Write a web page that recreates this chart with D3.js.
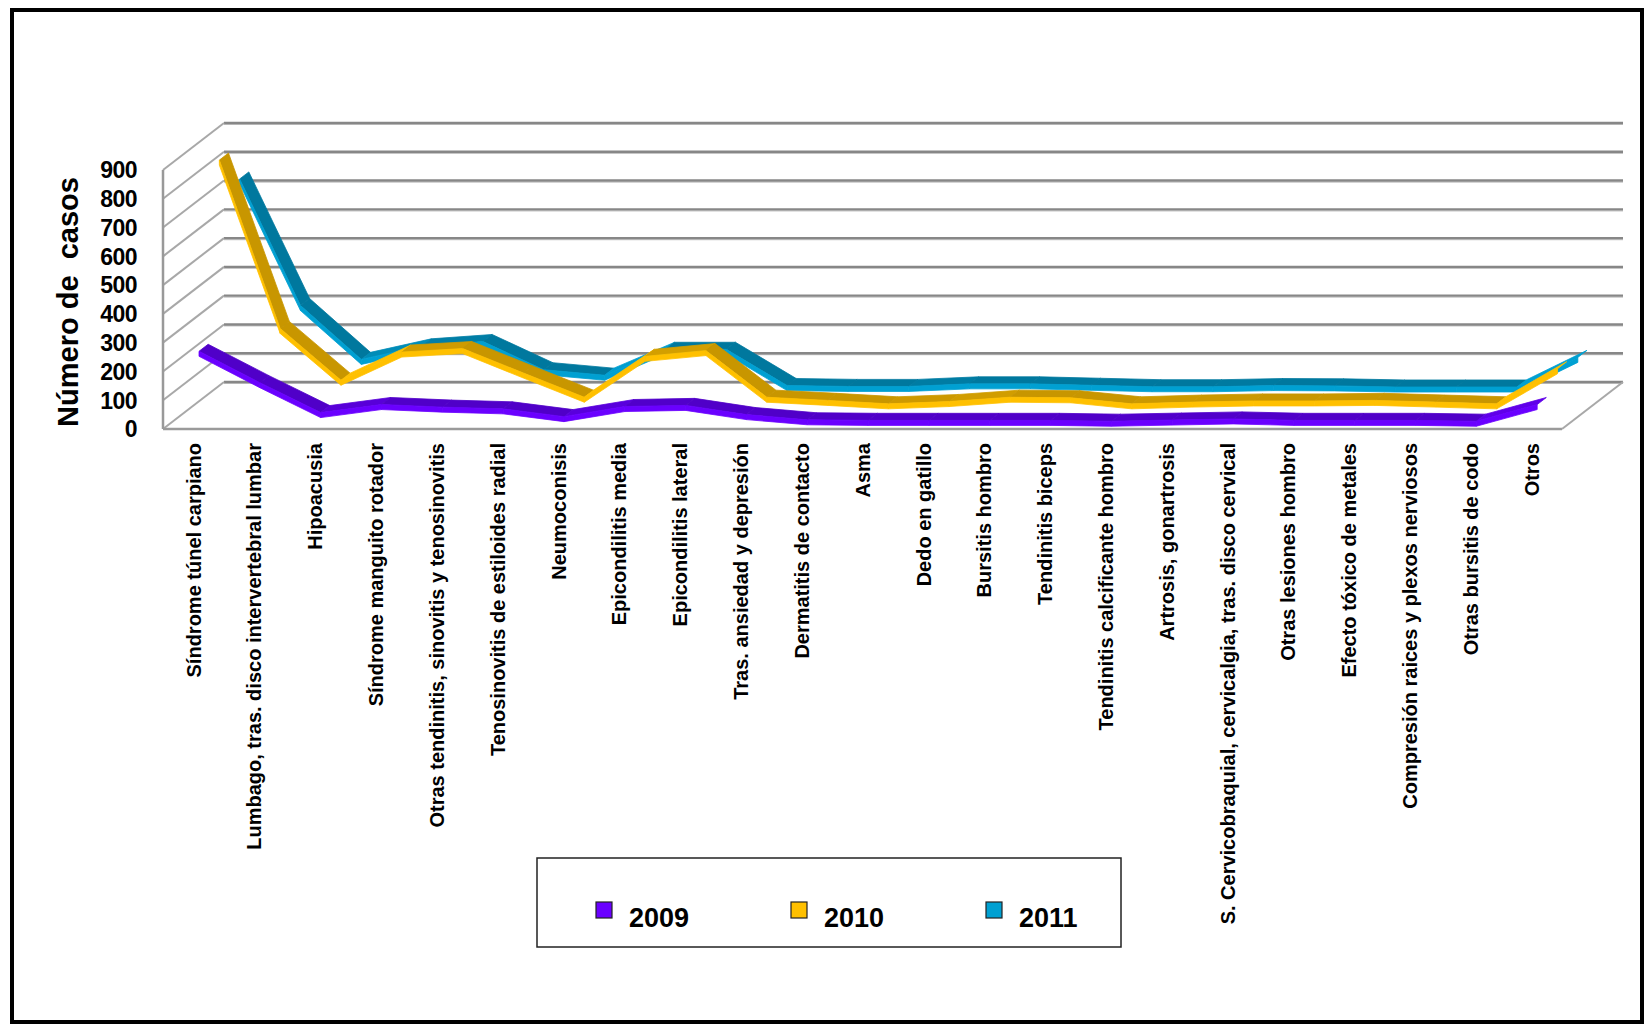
<!DOCTYPE html>
<html>
<head>
<meta charset="utf-8">
<script src="https://cdn.jsdelivr.net/npm/d3@7"></script>
<style>
  body { margin: 0; background: #fff; }
  svg { display: block; }
  text { font-family: "Liberation Sans", Arial, sans-serif; font-weight: bold; fill: #000; }
</style>
</head>
<body>
<div id="chart"></div>
<script>
"use strict";

// categories along the x axis
var categories = [
    "Síndrome túnel carpiano",
    "Lumbago, tras. disco intervertebral lumbar",
    "Hipoacusia",
    "Síndrome manguito rotador",
    "Otras tendinitis, sinovitis y tenosinovitis",
    "Tenosinovitis de estiloides radial",
    "Neumoconisis",
    "Epicondilitis media",
    "Epicondilitis lateral",
    "Tras. ansiedad y depresión",
    "Dermatitis de contacto",
    "Asma",
    "Dedo en gatillo",
    "Bursitis hombro",
    "Tendinitis biceps",
    "Tendinitis calcificante hombro",
    "Artrosis, gonartrosis",
    "S. Cervicobraquial, cervicalgia, tras. disco cervical",
    "Otras lesiones hombro",
    "Efecto tóxico de metales",
    "Compresión raices y plexos nerviosos",
    "Otras bursitis de codo",
    "Otros"
];

// series
var years = ["2009", "2010", "2011"];
var values2009 = [255, 146, 42, 70, 61, 55, 28, 63, 67, 35, 17, 15, 15, 15, 15, 12, 16, 20, 15, 15, 15, 12, 70];
var values2010 = [865, 280, 100, 198, 210, 125, 41, 183, 203, 41, 30, 18, 26, 41, 39, 18, 24, 28, 28, 30, 24, 18, 140];
var values2011 = [745, 305, 118, 165, 180, 82, 63, 153, 153, 27, 24, 24, 33, 33, 28, 23, 23, 27, 26, 22, 22, 22, 125];

var yMax = 900;
var yTitle = "Número de  casos";

// colours: [front face, top face]
var seriesColors = {
    "2009": { light: "#6a00ff", dark: "#5000c8" },
    "2010": { light: "#ffc000", dark: "#c89600" },
    "2011": { light: "#00a0d2", dark: "#00789e" }
};

var width = 1650, height = 1027;

var svg = d3.select("#chart").append("svg")
    .attr("width", width)
    .attr("height", height);

// outer frame
svg.append("rect")
    .attr("x", 12).attr("y", 10)
    .attr("width", 1630).attr("height", 1012)
    .attr("fill", "#fff")
    .attr("stroke", "#000")
    .attr("stroke-width", 4);

// front plane scales
var x = d3.scaleBand().domain(categories).range([163, 1562]);
var y = d3.scaleLinear().domain([0, yMax]).range([429, 170]);

// depth: 0 = front, 1 = back wall
var depthX = d3.scaleLinear().domain([0, 1]).range([0, 61]);
var depthY = d3.scaleLinear().domain([0, 1]).range([0, -47]);
var seriesDepth = d3.scaleBand().domain(years).range([0, 1]);

function proj(cat, v, z) {
    return [x(cat) + x.bandwidth() / 2 + depthX(z), y(v) + depthY(z)];
}

var levels = y.ticks(9);
var x0 = x.range()[0], x1 = x.range()[1];

// ---- walls ----
var walls = svg.append("g").attr("class", "walls");

// back wall gridlines
levels.forEach(function(v) {
    var yy = y(v) + depthY(1);
    walls.append("line")
        .attr("x1", x0 + depthX(1)).attr("x2", x1 + depthX(1))
        .attr("y1", yy + 1.5).attr("y2", yy + 1.5)
        .attr("stroke", "#c6c6c6").attr("stroke-width", 1.2);
    walls.append("line")
        .attr("x1", x0 + depthX(1)).attr("x2", x1 + depthX(1))
        .attr("y1", yy).attr("y2", yy)
        .attr("stroke", "#878787").attr("stroke-width", 2.4);
});

// side wall diagonals
levels.forEach(function(v) {
    walls.append("line")
        .attr("x1", x0).attr("y1", y(v))
        .attr("x2", x0 + depthX(1)).attr("y2", y(v) + depthY(1))
        .attr("stroke", "#a8a8a8").attr("stroke-width", 2);
});

// front vertical axis
walls.append("line")
    .attr("x1", x0).attr("x2", x0)
    .attr("y1", y(0)).attr("y2", y(yMax))
    .attr("stroke", "#999").attr("stroke-width", 2.5);

// floor front edge and right edge
walls.append("line")
    .attr("x1", x0).attr("x2", x1)
    .attr("y1", y(0)).attr("y2", y(0))
    .attr("stroke", "#9a9a9a").attr("stroke-width", 2.5);
walls.append("line")
    .attr("x1", x1).attr("y1", y(0))
    .attr("x2", x1 + depthX(1)).attr("y2", y(0) + depthY(1))
    .attr("stroke", "#a8a8a8").attr("stroke-width", 2);

// ---- y tick labels ----
svg.append("g").selectAll("text")
    .data(levels)
    .enter().append("text")
    .attr("x", 137)
    .attr("y", d => y(d))
    .attr("dy", "0.36em")
    .attr("text-anchor", "end")
    .style("font-size", "23px")
    .style("letter-spacing", "-0.5px")
    .text(d => d);

// y title
svg.append("text")
    .attr("transform", "translate(68,302) rotate(-90)")
    .attr("text-anchor", "middle")
    .attr("dy", "0.36em")
    .style("font-size", "29px")
    .attr("xml:space", "preserve")
    .text(yTitle);

// ---- category labels ----
svg.append("g").selectAll("text")
    .data(categories)
    .enter().append("text")
    .attr("transform", d => "translate(" + (x(d) + x.bandwidth() / 2) + ",443) rotate(-90)")
    .attr("text-anchor", "end")
    .attr("dy", "0.36em")
    .style("font-size", "20px")
    .text(d => d);

// ---- ribbons (back series first) ----
var ribbonDepth = 0.15;
var faceHeight = 5;
var seriesData = { "2009": values2009, "2010": values2010, "2011": values2011 };

var ribbons = svg.append("g").attr("class", "ribbons");
var poly = d3.line();

years.slice().reverse().forEach(function(yr) {
    var vals = seriesData[yr];
    var zc = seriesDepth(yr) + seriesDepth.bandwidth() / 2;
    var zf = zc - ribbonDepth / 2, zb = zc + ribbonDepth / 2;
    var col = seriesColors[yr];
    var shade = d3.interpolateRgb(col.dark, col.light);
    var g = ribbons.append("g");

    for (var i = 0; i < vals.length - 1; i++) {
        var a = categories[i], b = categories[i + 1];
        var af = proj(a, vals[i], zf), bf = proj(b, vals[i + 1], zf);
        var ab = proj(a, vals[i], zb), bb = proj(b, vals[i + 1], zb);

        // rising segments catch more light on the top face
        var slope = (af[1] - bf[1]) / (bf[0] - af[0]);
        var t = Math.max(0, Math.min(1, slope * 2.2));

        g.append("path")
            .attr("d", poly([af, bf, bb, ab]) + "Z")
            .attr("fill", shade(t))
            .attr("stroke", shade(t))
            .attr("stroke-width", 0.8);

        g.append("path")
            .attr("d", poly([af, bf, [bf[0], bf[1] + faceHeight], [af[0], af[1] + faceHeight]]) + "Z")
            .attr("fill", col.light)
            .attr("stroke", col.light)
            .attr("stroke-width", 0.8);
    }
});

// ---- legend ----
var legend = svg.append("g").attr("class", "legend");
legend.append("rect")
    .attr("x", 537).attr("y", 858)
    .attr("width", 584).attr("height", 89)
    .attr("fill", "#fff")
    .attr("stroke", "#222")
    .attr("stroke-width", 1.5);

var legendX = d3.scalePoint().domain(years).range([596, 986]);

var items = legend.selectAll("g.item")
    .data(years)
    .enter().append("g")
    .attr("class", "item")
    .attr("transform", d => "translate(" + legendX(d) + ",902)");

items.append("rect")
    .attr("width", 16).attr("height", 16)
    .attr("fill", d => seriesColors[d].light)
    .attr("stroke", "#222")
    .attr("stroke-width", 1.2);

items.append("text")
    .attr("x", 33)
    .attr("y", 25)
    .style("font-size", "27px")
    .text(d => d);
</script>
</body>
</html>
